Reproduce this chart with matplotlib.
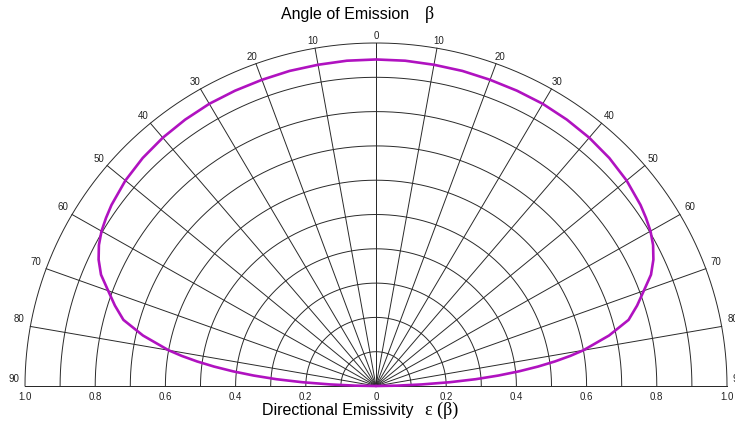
#Polar plot of directional emissivity against angle of emission
import numpy as np
from matplotlib import pyplot as plt

#############################################################################################
#DATA
#############################################################################################

#angle of emission in degrees (one side, the curve is symmetric)
beta_deg = [0, 5, 10, 15, 20, 25, 30, 35, 40, 45, 50, 55, 57.5, 60, 62.5, 65, 67.5, 70,
            72.5, 75, 77.5, 80, 81, 82, 83, 84, 85, 86, 87, 88, 89, 90]
#directional emissivity
emissivity = [0.952, 0.952, 0.951, 0.951, 0.95, 0.95, 0.95, 0.948, 0.945, 0.94, 0.932, 0.92,
              0.912, 0.903, 0.89, 0.872, 0.848, 0.812, 0.78, 0.745, 0.68, 0.60, 0.56,
              0.515, 0.465, 0.41, 0.35, 0.285, 0.21, 0.13, 0.06, 0.0]

#grid
spoke_angles = [0, 10, 20, 30, 40, 50, 60, 70, 80, 90]
ring_radii = [0.1, 0.2, 0.3, 0.4, 0.5, 0.6, 0.7, 0.8, 0.9, 1.0]
radius_labels = ['0', '0.2', '0.4', '0.6', '0.8', '1.0']
radius_ticks = [0.0, 0.2, 0.4, 0.6, 0.8, 1.0]

#############################################################################################
#PLOTTING
#############################################################################################

def plot_emissivity():
    f = plt.figure(figsize=(7.35, 4.25), dpi=100)
    ax = f.add_axes([0, 0, 1, 1])
    ax.set_xlim(-376/351, (735-376)/351)
    ax.set_ylim(-39/343, 386/343)
    ax.axis('off')

    sx = 1/351  #data units per pixel
    sy = 1/343
    gcol = '#2a2a2a'

    #rings
    th = np.linspace(0, np.pi, 400)
    for r in ring_radii:
        ax.plot(r*np.cos(th), r*np.sin(th), color=gcol, lw=0.7)
    #baseline
    ax.plot([-1, 1], [0, 0], color=gcol, lw=0.7)
    #spokes and angle labels
    for a in spoke_angles:
        for side in (-1, 1):
            t = np.radians(a)
            xe, ye = side*np.sin(t), np.cos(t)
            ax.plot([0, xe], [0, ye], color=gcol, lw=0.7)
            if a == 0 and side == 1:
                continue
            ax.text(xe + side*np.sin(t)*11*sx, ye + 7*sy, str(a), fontsize=7,
                    family='Liberation Sans', ha='center', va='center', color='#222222')

    #radius labels along the baseline
    for r, lab in zip(radius_ticks, radius_labels):
        for side in (-1, 1):
            if r == 0 and side == 1:
                continue
            ax.text(side*r, -11*sy, lab, fontsize=7, family='Liberation Sans',
                    ha='center', va='center', color='#222222')

    #emissivity curve, mirrored about the normal
    b = np.radians(np.array(beta_deg))
    e = np.array(emissivity)
    bb = np.concatenate([-b[::-1], b[1:]])
    ee = np.concatenate([e[::-1], e[1:]])
    ax.plot(ee*np.sin(bb), ee*np.cos(bb), color='#b012c0', lw=1.9,
            solid_capstyle='round', solid_joinstyle='round')

    #titles
    ax.text((345-376)*sx, 371*sy, 'Angle of Emission', fontsize=11.5, family='Liberation Sans',
            ha='center', va='center')
    ax.text((429-376)*sx, 371*sy, '\u03b2', fontsize=13, family='Liberation Serif',
            ha='center', va='center')
    ax.text((338-376)*sx, -24*sy, 'Directional Emissivity', fontsize=11.5,
            family='Liberation Sans', ha='center', va='center')
    ax.text((442-376)*sx, -24*sy, '\u03b5 (\u03b2)', fontsize=13, family='Liberation Serif',
            ha='center', va='center')

    plt.savefig('out.png', dpi=100)


if __name__ == "__main__":
    plot_emissivity()
